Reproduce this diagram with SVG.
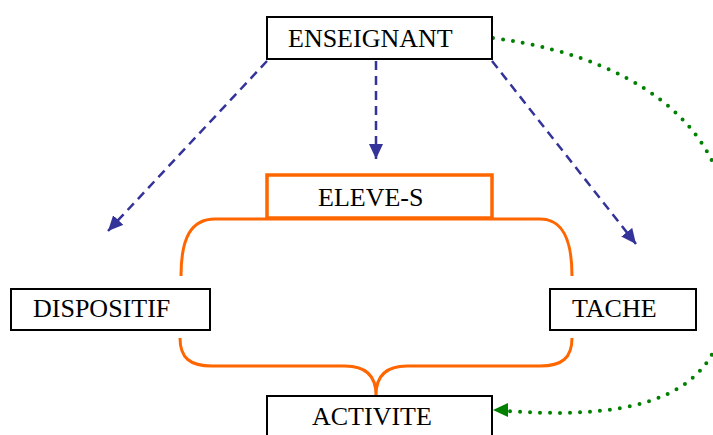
<svg xmlns="http://www.w3.org/2000/svg" width="713" height="435" viewBox="0 0 713 435">
<style>
.box{fill:#fff;stroke:#000;stroke-width:2}
.obox{fill:#fff;stroke:#FF6600;stroke-width:3.5}
.lbl{font-family:"Liberation Serif","Times New Roman",serif;font-size:26px;fill:#000}
.dash{fill:none;stroke:#333399;stroke-width:2.5;stroke-dasharray:9 6}
.dot{fill:none;stroke:#008000;stroke-width:4;stroke-linecap:round;stroke-dasharray:0 10}
.brace{fill:none;stroke:#FF6600;stroke-width:3}
</style>
<defs>
<marker id="blue" markerUnits="userSpaceOnUse" markerWidth="18" markerHeight="16" refX="15" refY="7" orient="auto">
<path d="M0,0 L15,7 L0,14 z" fill="#333399"/>
</marker>
</defs>
<rect width="713" height="435" fill="#fff"/>
<g id="connectors">
<path class="brace" d="M181,276 C181,238 191,219 215,219 L540,219 C562,219 572,238 572,276"/>
<path class="brace" d="M180,338 C180,358 190,366 212,366 L345,366 C365,366 376,375 376,395 C376,375 387,366 407,366 L540,366 C562,366 572,358 572,338"/>
<path class="dash" d="M267,61 L108,231" marker-end="url(#blue)"/>
<path class="dash" d="M376,61 L376,159" marker-end="url(#blue)"/>
<path class="dash" d="M492,61 L636,244" marker-end="url(#blue)"/>
<path class="dot" d="M493,38 C660,60 745,150 725,260 C735,360 700,425 508,411"/>
<polygon points="493,410 508,403 508,417" fill="#008000"/>
</g>
<g id="enseignant">
<rect class="box" x="267" y="17" width="225" height="42"/>
<text class="lbl" x="288" y="47">ENSEIGNANT</text>
</g>
<g id="eleves">
<rect class="obox" x="267" y="175" width="225" height="43"/>
<text class="lbl" x="318" y="206">ELEVE-S</text>
</g>
<g id="dispositif">
<rect class="box" x="11" y="289" width="199" height="41"/>
<text class="lbl" x="33" y="317">DISPOSITIF</text>
</g>
<g id="tache">
<rect class="box" x="550" y="289" width="146" height="41"/>
<text class="lbl" x="572" y="317">TACHE</text>
</g>
<g id="activite">
<rect class="box" x="267" y="396" width="225" height="50"/>
<text class="lbl" x="312" y="425">ACTIVITE</text>
</g>
</svg>
